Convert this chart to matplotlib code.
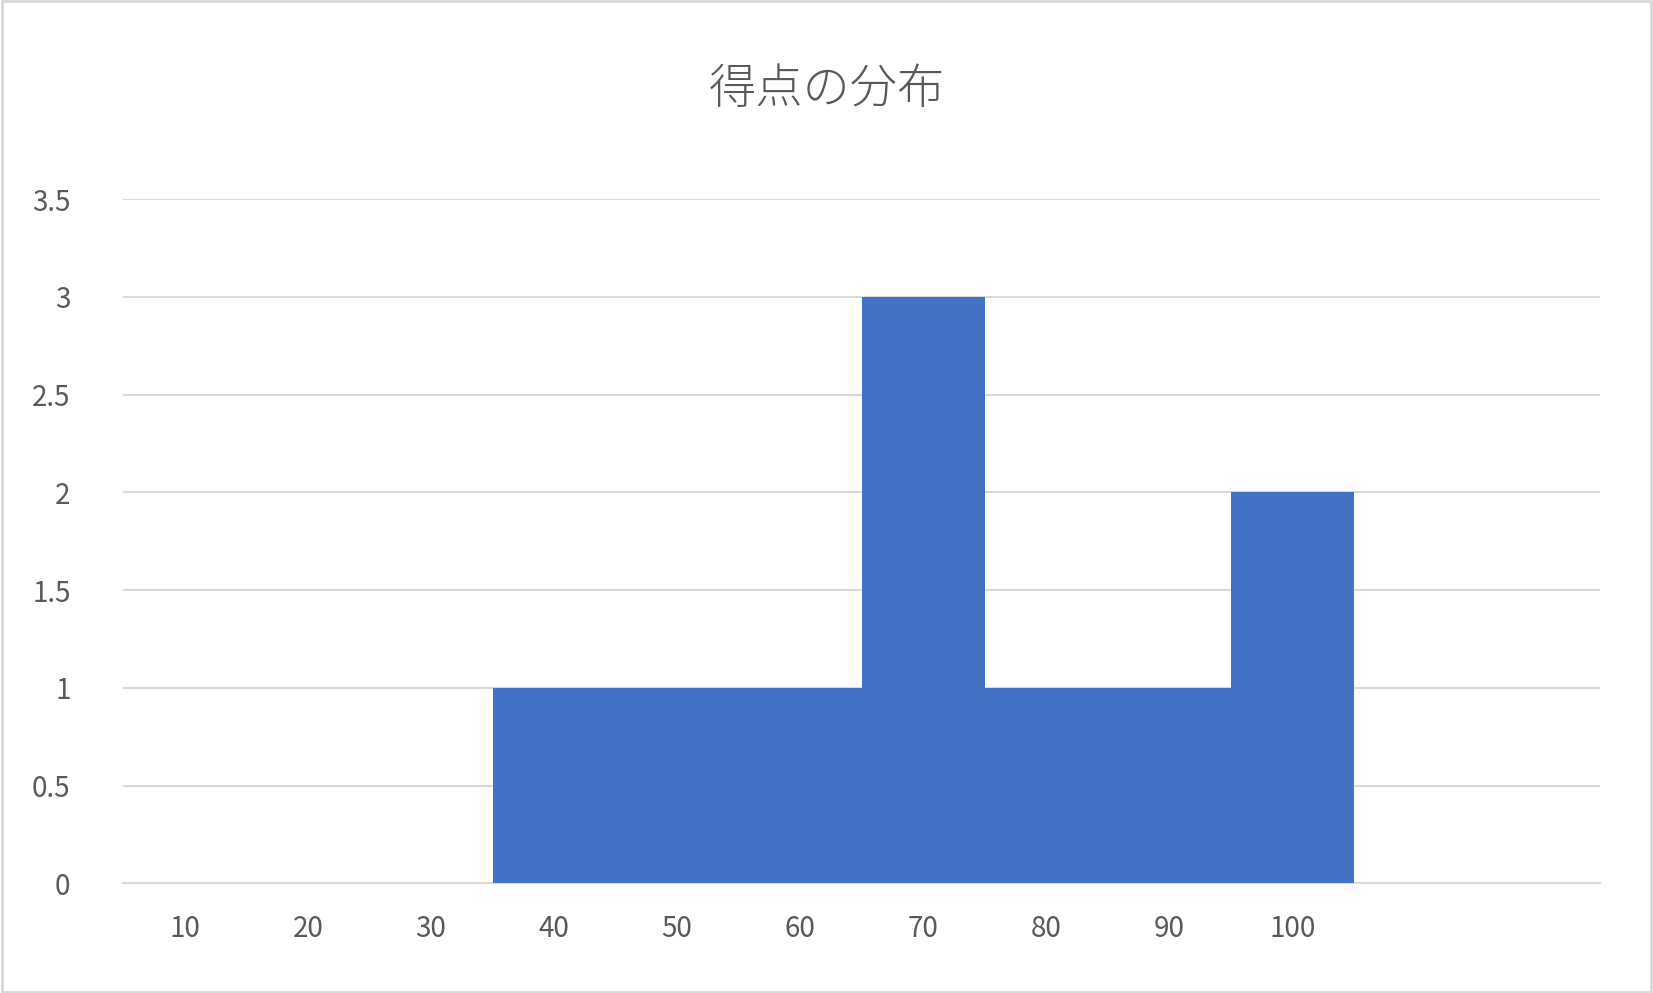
import matplotlib.pyplot as plt
from matplotlib.patches import Rectangle

plt.rcParams['font.family'] = ['Noto Sans CJK JP', 'DejaVu Sans']

# histogram bins (last two are empty categories)
labels = ['10', '20', '30', '40', '50', '60', '70', '80', '90', '100', '', '']
counts = [0, 0, 0, 1, 1, 1, 3, 1, 1, 2, 0, 0]
title = '得点の分布'

fig = plt.figure(figsize=(16.53, 9.93), dpi=100)
ax = fig.add_axes([0.0746, 0.1104, 0.8934, 0.689])

x = list(range(len(labels)))
ax.bar(x, counts, width=1.0, color='#4472C4', zorder=3)
ax.set_xlim(-0.5, len(labels) - 0.5)
ax.set_ylim(0, 3.5)
ax.set_yticks([0, 0.5, 1, 1.5, 2, 2.5, 3, 3.5])
ax.set_yticklabels(['0', '0.5', '1', '1.5', '2', '2.5', '3', '3.5'])
ax.set_xticks(x)
ax.set_xticklabels(labels)
ax.yaxis.grid(True, color='#D9D9D9', linewidth=1.5, zorder=0)
for s in ax.spines.values():
    s.set_visible(False)
ax.spines['bottom'].set_visible(True)
ax.spines['bottom'].set_color('#D9D9D9')
ax.spines['bottom'].set_linewidth(1.5)
ax.tick_params(length=0, labelsize=20, colors='#595959', pad=22)
ax.tick_params(axis='y', pad=38)
for t in ax.get_yticklabels():
    t.set_horizontalalignment('right')

fig.text(0.5, 0.91, title, ha='center', va='center', fontsize=34,
         color='#595959', fontweight='light')
fig.patches.append(Rectangle((0.001, 0.001), 0.998, 0.998, transform=fig.transFigure,
                             fill=False, edgecolor='#D9D9D9', linewidth=2))

fig.savefig('out.png', dpi=100)
